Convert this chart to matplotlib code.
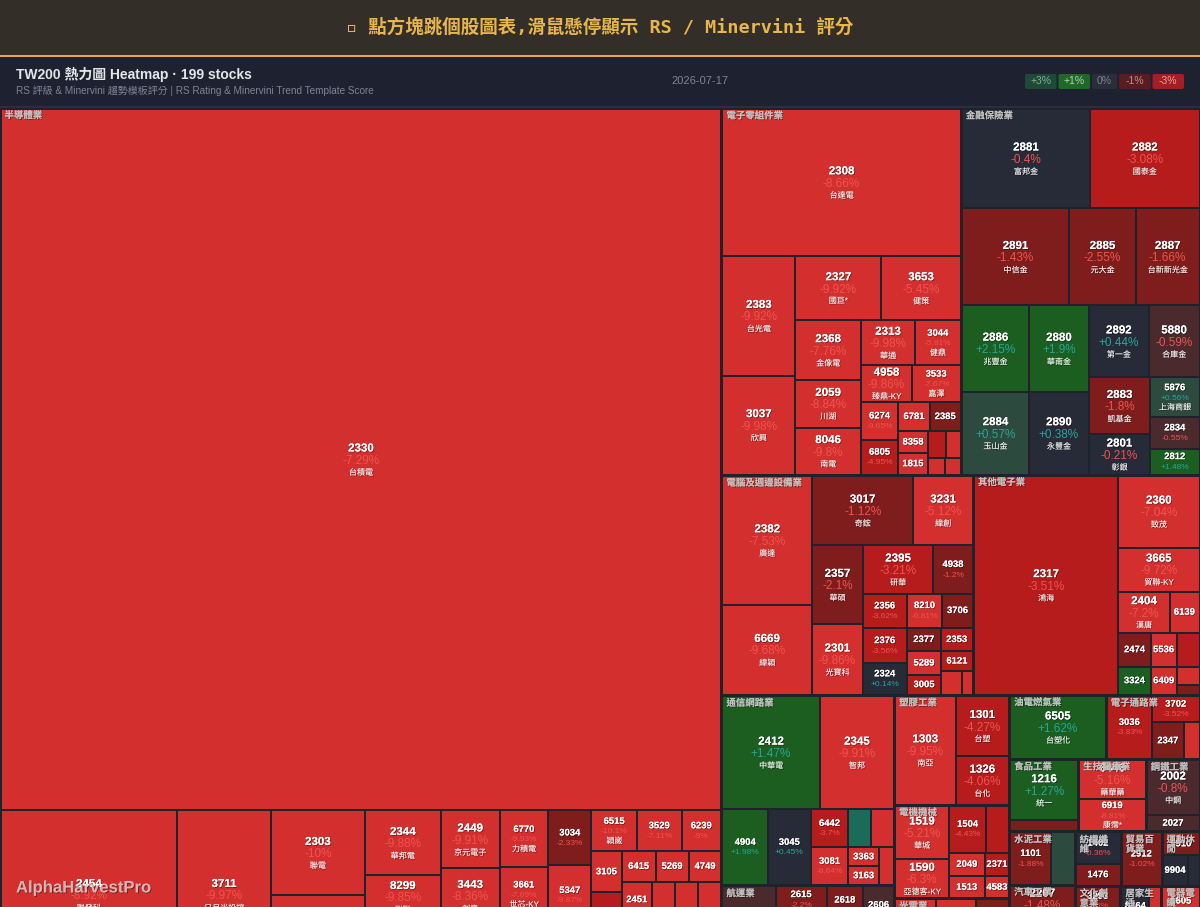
import matplotlib
matplotlib.use("Agg")
import matplotlib.pyplot as plt
import matplotlib.patheffects as pe
from matplotlib.patches import Rectangle, FancyBboxPatch

plt.rcParams['font.family'] = ['Liberation Sans', 'Noto Sans CJK TC', 'DejaVu Sans']

# ---- data -------------------------------------------------------------
sector_names = ['半導體業', '電子零組件業', '金融保險業', '電腦及週邊設備業', '其他電子業',
                '通信網路業', '航運業', '塑膠工業', '電機機械', '光電業', '油電燃氣業',
                '電子通路業', '食品工業', '生技醫療業', '鋼鐵工業', '水泥工業', '汽車工業',
                '紡織纖維', '貿易百貨業', '運動休閒', '文化創意業', '建材營造業', '居家生活',
                '電器電纜', '橡膠工業', '化學工業', '其他業']
sector_counts = [35, 22, 16, 20, 12, 11, 7, 3, 8, 6, 1, 4, 2, 2, 2, 2, 3, 2, 1, 3, 1, 2, 2, 1, 2, 2, 2]

codes = [
    # 半導體業
    '2330', '2454', '3711', '2303', '2408', '2344', '8299', '2379', '2449', '3443', '5274', '6770',
    '3661', '2337', '3034', '5347', '6488', '6515', '3529', '6239', '3105', '6147', '8016', '6415',
    '5269', '4749', '2451', '3264', '6271', '3374', '2436', '6182', '4966', '3016', '5483',
    # 電子零組件業
    '2308', '2383', '3037', '2327', '3653', '2368', '2059', '8046', '2313', '3044', '4958', '3533',
    '6274', '6805', '6781', '2385', '8358', '1815', '2492', '3189', '6213', '8039',
    # 金融保險業
    '2881', '2882', '2891', '2885', '2887', '2886', '2884', '2880', '2890', '2892', '5880', '2883',
    '2801', '5876', '2834', '2812',
    # 電腦及週邊設備業
    '2382', '6669', '3017', '3231', '2357', '2301', '2395', '4938', '2356', '2376', '2324', '8210',
    '3706', '2377', '2353', '5289', '3005', '6121', '3013', '2362',
    # 其他電子業
    '2317', '2360', '3665', '2404', '6139', '2474', '3324', '5536', '2392', '6409', '3023', '2455',
    # 通信網路業
    '2412', '2345', '4904', '3045', '6442', '3081', '6285', '2439', '3363', '3163', '5388',
    # 航運業
    '2603', '2615', '2609', '2618', '2606', '2605', '2637',
    # 塑膠工業
    '1303', '1301', '1326',
    # 電機機械
    '1519', '1590', '1504', '1503', '2049', '1513', '2371', '4583',
    # 光電業
    '3008', '2409', '3481', '6176', '2393', '8069',
    # 油電燃氣業
    '6505',
    # 電子通路業
    '3036', '3702', '2347', '3028',
    # 食品 / 生技 / 鋼鐵 / 水泥 / 汽車
    '1216', '1210', '6446', '6919', '2002', '2027', '1101', '1102', '2207', '2201', '2204',
    # 紡織 / 貿易 / 運動 / 文化 / 建材 / 居家 / 電器 / 橡膠 / 化學 / 其他
    '1402', '1476', '2912', '9910', '9904', '9921', '3293', '2501', '2542', '8464', '9914',
    '1605', '2105', '2103', '1722', '1717', '9945', '8454',
]

names = [
    '台積電', '聯發科', '日月光投控', '聯電', '南亞科', '華邦電', '群聯', '瑞昱', '京元電子', '創意', '信驊', '力積電',
    '世芯-KY', '旺宏', '', '', '', '穎崴', '', '', '', '', '', '',
    '', '', '', '', '', '', '', '', '', '', '',
    '台達電', '台光電', '欣興', '國巨*', '健策', '金像電', '川湖', '南電', '華通', '健鼎', '臻鼎-KY', '嘉澤',
    '', '', '', '', '', '', '', '', '', '',
    '富邦金', '國泰金', '中信金', '元大金', '台新新光金', '兆豐金', '玉山金', '華南金', '永豐金', '第一金', '合庫金', '凱基金',
    '彰銀', '上海商銀', '', '',
    '廣達', '緯穎', '奇鋐', '緯創', '華碩', '光寶科', '研華', '', '', '', '', '',
    '', '', '', '', '', '', '', '',
    '鴻海', '致茂', '貿聯-KY', '漢唐', '', '', '', '', '', '', '', '',
    '中華電', '智邦', '', '', '', '', '', '', '', '', '',
    '長榮', '萬海', '陽明', '長榮航', '裕民', '新興', '慧洋-KY',
    '南亞', '台塑', '台化',
    '華城', '亞德客-KY', '', '', '', '', '', '',
    '大立光', '友達', '群創', '瑞儀', '億光', '元太',
    '台塑化',
    '', '', '', '',
    '統一', '大成', '藥華藥', '康霈*', '中鋼', '大成鋼', '', '亞泥', '和泰車', '裕隆', '中華',
    '遠東新', '', '', '', '', '', '鈊象', '國建', '興富發', '', '',
    '華新', '正新', '台橡', '台肥', '長興', '潤泰新', '富邦媒',
]

pcts = [
    -7.29, -8.92, -9.97, -10.0, -9.95, -9.88, -9.85, -8.1, -9.91, -8.36, -9.4, -9.93,
    -7.69, -9.6, -2.33, -9.87, -9.2, -10.1, -7.11, -9.0, -9.3, -4.1, -9.5, -9.2,
    -8.8, -9.7, -9.1, -9.4, -8.6, -9.8, -9.2, -9.6, -8.9, -9.9, -9.3,
    -8.66, -9.92, -9.98, -9.92, -5.45, -7.76, -8.84, -9.8, -9.98, -5.81, -9.86, -7.67,
    -9.65, -4.95, -9.3, -2.2, -9.1, -9.5, -4.4, -9.0, -8.2, -9.4,
    -0.4, -3.08, -1.43, -2.55, -1.66, 2.15, 0.57, 1.9, 0.38, 0.44, -0.59, -1.8,
    -0.21, 0.56, -0.55, 1.48,
    -7.53, -9.68, -1.12, -5.12, -2.1, -9.86, -3.21, -1.2, -3.62, -3.56, 0.14, -6.81,
    -2.4, -1.8, -4.2, -8.5, -3.9, -4.5, -9.0, -8.0,
    -3.51, -7.04, -9.72, -7.2, -8.5, -2.1, 1.6, -8.3, -4.3, -9.2, -7.5, -2.0,
    1.47, -9.91, 1.98, 0.45, -3.7, -8.64, 3.4, -6.5, -8.8, -9.1, -7.9,
    -0.7, -2.2, -1.6, -2.4, -0.8, -1.2, -0.9,
    -9.95, -4.27, -4.06,
    -5.21, -6.3, -4.43, -4.6, -7.8, -8.9, -4.2, -9.0,
    -9.2, -9.5, -2.1, -7.0, -7.5, -8.8,
    1.62,
    -3.83, -3.52, -2.2, -6.0,
    1.27, -1.5, -5.16, -8.81, -0.8, -0.7, -1.88, 0.7, -1.48, -1.3, -2.0,
    -0.36, -1.9, -1.02, -2.1, 0.2, -0.1, -1.5, -3.2, -2.5, 0.1, -6.0,
    -9.0, -1.1, -0.8, -0.6, -1.4, -2.2, -0.9,
]

caps = [
    506863, 29913, 15886, 7990, 7896, 4940, 3268, 4636, 3422, 3245, 3304, 2793,
    2646, 2842, 2365, 2580, 2322, 1880, 1800, 1630, 1260, 1330, 1330, 1030,
    1000, 990, 1100, 930, 930, 780, 780, 780, 1490, 1490, 1490,
    35400, 8760, 7227, 5568, 5120, 3960, 3168, 3102, 2430, 2070, 1887, 1813,
    1406, 1295, 928, 899, 660, 645, 500, 400, 272, 256,
    12900, 11000, 10476, 6499, 6208, 5850, 5600, 5200, 4950, 4350, 3672, 3534,
    2480, 1960, 1568, 1274,
    11700, 8100, 7140, 4200, 4029, 3621, 3408, 1920, 1540, 1540, 1408, 1220,
    1050, 816, 768, 805, 700, 608, 504, 264,
    31900, 5904, 3608, 2132, 1230, 1122, 924, 884, 782, 728, 414, 230,
    11172, 8550, 3496, 3268, 1444, 1444, 880, 868, 589, 589, 570,
    5076, 1836, 2958, 1406, 1178, 2000, 1808,
    6710, 3294, 2646,
    2916, 2160, 1786, 1081, 860, 820, 576, 552,
    3300, 1800, 1500, 1200, 800, 715,
    6208,
    2944, 1296, 1184, 592,
    4216, 770, 2650, 2241, 2990, 900, 2220, 1250, 2508, 1900, 1796,
    1472, 1012, 2214, 880, 800, 372, 1800, 1300, 1200, 1150, 490,
    1520, 800, 700, 800, 600, 700, 666,
]

title_text = '▫ 點方塊跳個股圖表,滑鼠懸停顯示 RS / Minervini 評分'
head_text = 'TW200 熱力圖 Heatmap · 199 stocks'
sub_text = 'RS 評級 & Minervini 趨勢模板評分 | RS Rating & Minervini Trend Template Score'
date_text = '2026-07-17'
legend_labels = ['+3%', '+1%', '0%', '-1%', '-3%']
legend_colors = ['#1f4a38', '#1f6826', '#2a2e3a', '#5a1c20', '#a31f23']
legend_text_colors = ['#86ab99', '#b3d3b3', '#7d8290', '#c58a8c', '#eaa0a0']


# ---- helpers ----------------------------------------------------------
def squarify(values, x0, y0, x1, y1):
    out = [None] * len(values)
    total = float(sum(values))
    i0, n = 0, len(values)
    while i0 < n:
        dx, dy = x1 - x0, y1 - y0
        s = values[i0]
        lo = hi = s
        i1 = i0 + 1
        alpha = max(dy / dx, dx / dy) / total
        beta = s * s * alpha
        best = max(hi / beta, beta / lo)
        while i1 < n:
            v = values[i1]
            s2 = s + v
            lo2, hi2 = min(lo, v), max(hi, v)
            beta = s2 * s2 * alpha
            r = max(hi2 / beta, beta / lo2)
            if r > best:
                break
            s, lo, hi, best = s2, lo2, hi2, r
            i1 += 1
        if dx < dy:
            h = dy * s / total
            xx = x0
            for k in range(i0, i1):
                w = dx * values[k] / s
                out[k] = (xx, y0, w, h)
                xx += w
            y0 += h
        else:
            w = dx * s / total
            yy = y0
            for k in range(i0, i1):
                h = dy * values[k] / s
                out[k] = (x0, yy, w, h)
                yy += h
            x0 += w
        total -= s
        i0 = i1
    return out


def tile_color(p):
    if p <= -5:
        return '#d32f2f'
    if p <= -3:
        return '#b71c1c'
    if p <= -1:
        return '#7f1d1d'
    if p <= -0.5:
        return '#4a2a2d'
    if p < 0.5:
        return '#272b37'
    if p < 1:
        return '#2d4a3e'
    if p < 3:
        return '#1b5e20'
    return '#1b6b5a'


shadow = [pe.withSimplePatchShadow(offset=(0.6, -0.6), shadow_rgbFace='black', alpha=0.45), pe.Normal()]

# ---- figure -----------------------------------------------------------
W, H = 1200, 907
TOP, BOTTOM = 108, 980

fig = plt.figure(figsize=(12, 9.07), dpi=100)
fig.patch.set_facecolor('#1f212b')
ax = fig.add_axes([0, 0, 1, 1])
ax.set_xlim(0, W)
ax.set_ylim(H, 0)
ax.axis('off')
ax.set_facecolor('#1f212b')

# header bars
ax.add_patch(Rectangle((0, 0), W, 55, color='#332e27', lw=0))
ax.add_patch(Rectangle((0, 55), W, 2, color='#e2ab45', lw=0))
ax.add_patch(Rectangle((0, 57), W, 50, color='#1e2130', lw=0))
ax.add_patch(Rectangle((0, 106), W, 2, color='#2a2f3e', lw=0))
ax.text(600, 27, title_text, ha='center', va='center', fontsize=13.3, fontweight='bold',
        color='#e8b64a', family=['DejaVu Sans Mono', 'Noto Sans CJK TC'])
ax.text(16, 74, head_text, ha='left', va='center', fontsize=10, fontweight='bold', color='#e4e6ea')
ax.text(16, 91, sub_text, ha='left', va='center', fontsize=7.2, color='#7e8494')
ax.text(700, 81, date_text, ha='center', va='center', fontsize=8, color='#7e8494')

# legend chips, right aligned
lx = 1184
for lab, fc, tc in reversed(list(zip(legend_labels, legend_colors, legend_text_colors))):
    bw = 12 + 6.5 * len(lab)
    lx -= bw
    ax.add_patch(FancyBboxPatch((lx, 74), bw, 15, boxstyle='round,pad=0,rounding_size=2',
                                fc=fc, ec='none'))
    ax.text(lx + bw / 2, 81.5, lab, ha='center', va='center', fontsize=7.5, color=tc)
    lx -= 2

# treemap
starts = [sum(sector_counts[:i]) for i in range(len(sector_counts))]
sector_vals = [sum(caps[s:s + c]) for s, c in zip(starts, sector_counts)]
sector_rects = squarify(sector_vals, 0, TOP, W, BOTTOM)

for si, (sname, s, c) in enumerate(zip(sector_names, starts, sector_counts)):
    sx, sy, sw, sh = sector_rects[si]
    x0, y0, x1, y1 = sx + 0.5, sy + 0.5, sx + sw - 0.5, sy + sh - 0.5
    rects = squarify(caps[s:s + c], x0, y0, x1, y1)
    for k, (x, y, w, h) in enumerate(rects):
        i = s + k
        p = pcts[i]
        ax.add_patch(Rectangle((x + 1, y + 1), w - 2, h - 2, fc=tile_color(p), ec='none'))
        cx, cy = x + w / 2, y + h / 2
        pc = '#ef5350' if p < 0 else '#26a69a'
        ptxt = '%+g%%' % p
        big = w >= 50 and h >= 36
        show_name = names[i] and h >= 32 and w >= 40
        if big:
            if show_name:
                ax.text(cx, cy - 11, codes[i], ha='center', va='center', fontsize=8.3,
                        fontweight='bold', color='white', path_effects=shadow)
                ax.text(cx, cy + 1.5, ptxt, ha='center', va='center', fontsize=8.5, color=pc)
                ax.text(cx, cy + 13.5, names[i], ha='center', va='center', fontsize=5.8,
                        color='white', alpha=0.78, path_effects=shadow)
            else:
                ax.text(cx, cy - 6, codes[i], ha='center', va='center', fontsize=8.3,
                        fontweight='bold', color='white', path_effects=shadow)
                ax.text(cx, cy + 7, ptxt, ha='center', va='center', fontsize=8.5, color=pc)
        elif w >= 35 and h >= 25:
            if show_name:
                ax.text(cx, cy - 9.5, codes[i], ha='center', va='center', fontsize=6.8,
                        fontweight='bold', color='white', path_effects=shadow)
                ax.text(cx, cy + 1, ptxt, ha='center', va='center', fontsize=6, color=pc)
                ax.text(cx, cy + 10.5, names[i], ha='center', va='center', fontsize=5.8,
                        color='white', alpha=0.78, path_effects=shadow)
            else:
                ax.text(cx, cy - 5, codes[i], ha='center', va='center', fontsize=6.8,
                        fontweight='bold', color='white', path_effects=shadow)
                ax.text(cx, cy + 5.5, ptxt, ha='center', va='center', fontsize=6, color=pc)
        elif w >= 24 and h >= 16:
            ax.text(cx, cy, codes[i], ha='center', va='center', fontsize=6.8,
                    fontweight='bold', color='white', path_effects=shadow)
    # sector label, wrapped when the block is narrow
    per = max(1, int((sw - 6) / 10))
    lab = '\n'.join(sname[j:j + per] for j in range(0, len(sname), per))
    ax.text(x0 + 4, y0 + 2.5, lab, ha='left', va='top', fontsize=6.8, fontweight='bold',
            color='#c4c4c4', alpha=0.9, linespacing=1.05, path_effects=shadow)

ax.text(16, 888, 'AlphaHarvestPro', ha='left', va='center', fontsize=12, fontweight='bold',
        color='white', alpha=0.42, path_effects=shadow)

fig.savefig('out.png', dpi=100, facecolor=fig.get_facecolor())
